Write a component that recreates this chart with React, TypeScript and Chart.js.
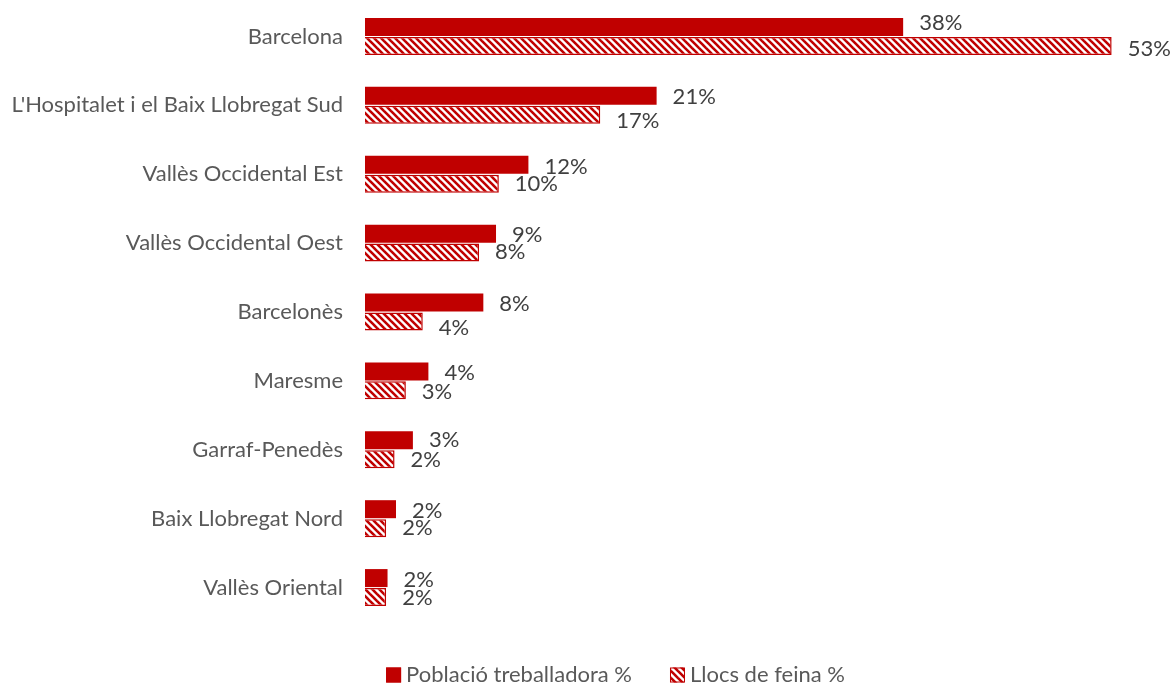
import React, { useEffect, useRef } from "react";
import { Chart, registerables } from "chart.js";

Chart.register(...registerables);

const categories = [
  "Barcelona",
  "L'Hospitalet i el Baix Llobregat Sud",
  "Vallès Occidental Est",
  "Vallès Occidental Oest",
  "Barcelonès",
  "Maresme",
  "Garraf-Penedès",
  "Baix Llobregat Nord",
  "Vallès Oriental",
];
const poblacio = [38.2, 20.7, 11.6, 9.3, 8.4, 4.5, 3.4, 2.2, 1.6];
const llocs = [53.0, 16.7, 9.5, 8.1, 4.1, 2.9, 2.1, 1.5, 1.5];
const poblacioLabels = ["38%", "21%", "12%", "9%", "8%", "4%", "3%", "2%", "2%"];
const llocsLabels = ["53%", "17%", "10%", "8%", "4%", "3%", "2%", "2%", "2%"];
const seriesNames = ["Població treballadora %", "Llocs de feina %"];

const RED = "#C00000";
const FONT = "Lato";
const FS = 22;

// vertical nudges of the value labels (as placed in the original)
const pobNudge = [-4, 1, 2, 1, 1.5, 1, 0, 1.5, 1.5];
const llocsNudge = [2.5, 6.5, 0, -1, 6, 1.5, 0.5, -0.5, 1];

function makePattern(): CanvasPattern | string {
  const s = 7;
  const c = document.createElement("canvas");
  c.width = s;
  c.height = s;
  const g = c.getContext("2d");
  if (!g) return RED;
  g.fillStyle = "#ffffff";
  g.fillRect(0, 0, s, s);
  g.strokeStyle = RED;
  g.lineWidth = 2.6;
  for (const k of [-s, 0, s]) {
    g.beginPath();
    g.moveTo(k - 1, -1);
    g.lineTo(k + s + 1, s + 1);
    g.stroke();
  }
  const p = g.createPattern(c, "repeat");
  return p || RED;
}

export default function App() {
  const ref = useRef<HTMLCanvasElement | null>(null);
  useEffect(() => {
    if (!ref.current) return;
    const pattern = makePattern();
    const labelsPlugin = {
      id: "valueLabels",
      afterDatasetsDraw(chart: any) {
        const ctx = chart.ctx;
        ctx.save();
        ctx.font = `${FS}px ${FONT}`;
        ctx.fillStyle = "#404040";
        ctx.textAlign = "left";
        ctx.textBaseline = "middle";
        const lists = [poblacioLabels, llocsLabels];
        const nudges = [pobNudge, llocsNudge];
        chart.data.datasets.forEach((_: any, di: number) => {
          const meta = chart.getDatasetMeta(di);
          meta.data.forEach((el: any, i: number) => {
            ctx.fillText(lists[di][i], el.x + 16, el.y + nudges[di][i]);
          });
        });
        ctx.restore();
      },
    };
    const legendPlugin = {
      id: "customLegend",
      afterDraw(chart: any) {
        const ctx = chart.ctx;
        ctx.save();
        ctx.font = `${FS}px ${FONT}`;
        ctx.textBaseline = "middle";
        ctx.textAlign = "left";
        const y = 675;
        const box = 15;
        const gapText = 5;
        const gapItems = 38;
        const widths = seriesNames.map((t) => box + gapText + ctx.measureText(t).width);
        const total = widths[0] + gapItems + widths[1];
        let x = 615.5 - total / 2;
        const fills = [RED, pattern];
        seriesNames.forEach((t, i) => {
          ctx.fillStyle = fills[i];
          ctx.fillRect(x, y - box / 2, box, box);
          ctx.strokeStyle = RED;
          ctx.lineWidth = 1;
          ctx.strokeRect(x + 0.5, y - box / 2 + 0.5, box - 1, box - 1);
          ctx.fillStyle = "#595959";
          ctx.fillText(t, x + box + gapText, y);
          x += widths[i] + gapItems;
        });
        ctx.restore();
      },
    };
    const chart = new Chart(ref.current, {
      type: "bar",
      data: {
        labels: categories,
        datasets: [
          {
            label: seriesNames[0],
            data: poblacio,
            backgroundColor: RED,
            borderWidth: 0,
            categoryPercentage: 0.55,
            barPercentage: 0.95,
          },
          {
            label: seriesNames[1],
            data: llocs,
            backgroundColor: pattern as any,
            borderColor: RED,
            borderWidth: 1.5,
            categoryPercentage: 0.55,
            barPercentage: 0.95,
          },
        ],
      },
      options: {
        indexAxis: "y",
        animation: false,
        responsive: true,
        maintainAspectRatio: false,
        layout: { padding: { top: 2, bottom: 62, left: 0, right: 4 } },
        plugins: {
          legend: { display: false },
          tooltip: { enabled: false },
        },
        scales: {
          x: {
            display: false,
            min: 0,
            max: 57,
          },
          y: {
            grid: { display: false, drawTicks: false },
            border: { display: false },
            ticks: {
              color: "#595959",
              font: { family: FONT, size: FS },
              padding: 22,
            },
            afterFit(scale: any) {
              scale.width = 365;
              scale.paddingTop = 0;
              scale.paddingBottom = 0;
            },
          },
        },
      },
      plugins: [labelsPlugin, legendPlugin],
    });
    return () => chart.destroy();
  }, []);
  return (
    <div style={{ position: "fixed", left: 0, top: 0, width: 1172, height: 684, background: "#fff" }}>
      <canvas ref={ref} />
    </div>
  );
}
